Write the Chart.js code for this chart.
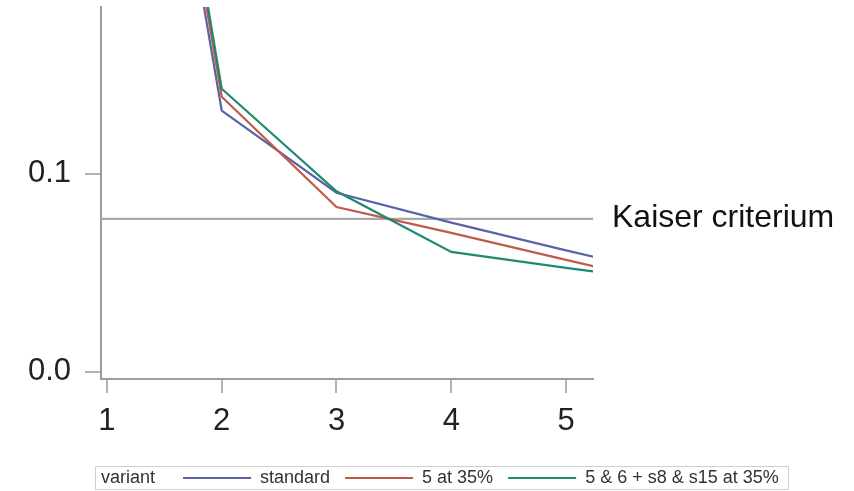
<!DOCTYPE html>
<html>
<head>
<meta charset="utf-8">
<script src="https://cdn.jsdelivr.net/npm/chart.js@4/dist/chart.umd.min.js"></script>
<style>
  html, body { margin: 0; padding: 0; background: #fff; }
  #wrap { width: 854px; height: 491px; position: relative; }
</style>
</head>
<body>
<div id="wrap"><canvas id="scree"></canvas></div>
<script>
// eigenvalue share per component
const components = [1, 2, 3, 4, 5, 6];
const standard   = [0.47, 0.132, 0.0905, 0.0754, 0.0614, 0.048];
const at35       = [0.48, 0.139, 0.0833, 0.0702, 0.0566, 0.043];
const combo35    = [0.49, 0.143, 0.0912, 0.0606, 0.0525, 0.045];
const seriesNames = ['standard', '5 at 35%', '5 & 6 + s8 & s15 at 35%'];
const kaiser = 0.0773;
const kaiserLabel = 'Kaiser criterium';
const legendTitle = 'variant';
const xTicks = [1, 2, 3, 4, 5];
const yTicks = [0, 0.1];
const xRange = [0.948, 5.235];
const yRange = [-0.0036, 0.1843];

const FONT = '"Liberation Sans", Arial, sans-serif';
const colors = ['#5a62a8', '#c05a4a', '#1e8a6e'];
const axisGray = '#9c9c9c';

const toPoints = vals => components.map((c, i) => ({ x: c, y: vals[i] }));

// no auto padding from tick labels, the plot box is fixed
const noPad = s => {
  s.paddingTop = 0; s.paddingBottom = 0;
  s.paddingLeft = 0; s.paddingRight = 0;
};

// kaiser label on the right + legend strip at the bottom
const extras = {
  id: 'extras',
  afterDraw(chart) {
    const ctx = chart.ctx;
    const area = chart.chartArea;
    const ky = chart.scales.y.getPixelForValue(kaiser);
    ctx.save();
    ctx.fillStyle = '#111';
    ctx.font = '32px ' + FONT;
    ctx.textBaseline = 'alphabetic';
    ctx.textAlign = 'left';
    ctx.fillText(kaiserLabel, area.right + 19, ky + 8);

    // legend
    ctx.strokeStyle = '#cfcfcf';
    ctx.lineWidth = 1;
    ctx.strokeRect(95.5, 466.5, 693, 23);
    ctx.font = '18px ' + FONT;
    ctx.fillStyle = '#333';
    ctx.textBaseline = 'middle';
    const ly = 478;
    let x = 101;
    ctx.fillText(legendTitle, x, ly);
    x += ctx.measureText(legendTitle).width + 28;
    seriesNames.forEach((name, i) => {
      ctx.strokeStyle = colors[i];
      ctx.lineWidth = 2;
      ctx.beginPath();
      ctx.moveTo(x, ly);
      ctx.lineTo(x + 68, ly);
      ctx.stroke();
      x += 68 + 9;
      ctx.fillText(name, x, ly);
      x += ctx.measureText(name).width + 15;
    });
    ctx.restore();
  }
};

new Chart(document.getElementById('scree'), {
  type: 'line',
  data: {
    datasets: [
      { label: seriesNames[0], data: toPoints(standard), borderColor: colors[0], order: 2 },
      { label: seriesNames[1], data: toPoints(at35), borderColor: colors[1], order: 1 },
      { label: seriesNames[2], data: toPoints(combo35), borderColor: colors[2], order: 0 },
      {
        label: 'kaiser',
        data: [{ x: xRange[0], y: kaiser }, { x: xRange[1], y: kaiser }],
        borderColor: '#a8a8a8',
        order: 3
      }
    ]
  },
  options: {
    responsive: true,
    maintainAspectRatio: false,
    animation: false,
    elements: {
      point: { radius: 0 },
      line: { borderWidth: 2.2, tension: 0 }
    },
    layout: { padding: { top: 7, right: 261, left: 0, bottom: 0 } },
    plugins: {
      legend: { display: false },
      tooltip: { enabled: false }
    },
    scales: {
      x: {
        type: 'linear',
        min: xRange[0],
        max: xRange[1],
        border: { color: axisGray, width: 2 },
        grid: { drawOnChartArea: false, drawTicks: true, tickLength: 14, color: '#b4b4b4', lineWidth: 2 },
        ticks: { font: { family: FONT, size: 31 }, color: '#222', padding: 10 },
        afterBuildTicks: s => { s.ticks = xTicks.map(v => ({ value: v })); },
        afterFit: s => { s.height = 112; noPad(s); }
      },
      y: {
        min: yRange[0],
        max: yRange[1],
        border: { color: axisGray, width: 2 },
        grid: { drawOnChartArea: false, drawTicks: true, tickLength: 16, color: '#b4b4b4', lineWidth: 2 },
        ticks: {
          font: { family: FONT, size: 31 },
          color: '#222',
          padding: 14,
          callback: v => v.toFixed(1)
        },
        afterBuildTicks: s => { s.ticks = yTicks.map(v => ({ value: v })); },
        afterFit: s => { s.width = 101; noPad(s); }
      }
    }
  },
  plugins: [extras]
});
</script>
</body>
</html>
